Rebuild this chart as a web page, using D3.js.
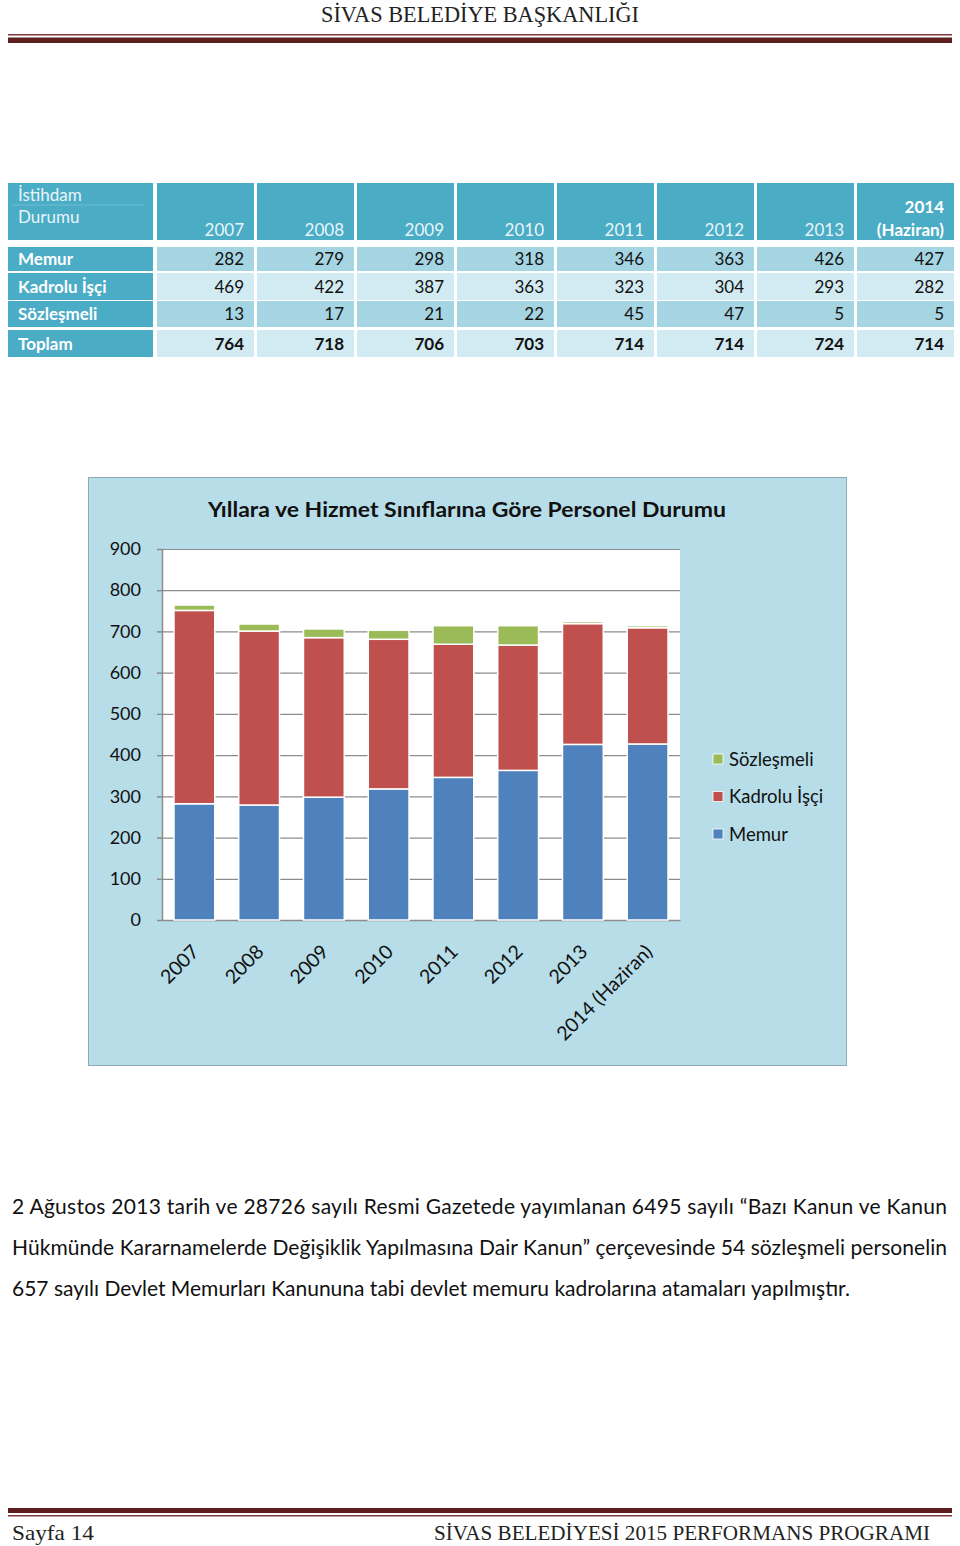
<!DOCTYPE html>
<html><head><meta charset="utf-8">
<script src="https://cdn.jsdelivr.net/npm/d3@7"></script>
<style>
html,body{margin:0;padding:0;background:#fff;}
svg{display:block;}
</style></head>
<body>
<svg id="page" width="960" height="1546"></svg>
<script>
const years = ["2007","2008","2009","2010","2011","2012","2013","2014 (Haziran)"];
const memur = [282,279,298,318,346,363,426,427];
const kadrolu = [469,422,387,363,323,304,293,282];
const sozlesmeli = [13,17,21,22,45,47,5,5];
const toplam = [764,718,706,703,714,714,724,714];
const rowLabels = ["Memur","Kadrolu İşçi","Sözleşmeli","Toplam"];
const seriesNames = ["Memur","Kadrolu İşçi","Sözleşmeli"];
const seriesColors = ["#4f81bd","#c0504d","#9bbb59"];
const yTicks = [0,100,200,300,400,500,600,700,800,900];
const chartTitle = "Yıllara ve Hizmet Sınıflarına Göre Personel Durumu";
const paragraph = [
 "2 Ağustos 2013 tarih ve 28726 sayılı Resmi Gazetede yayımlanan 6495 sayılı “Bazı Kanun ve Kanun",
 "Hükmünde Kararnamelerde Değişiklik Yapılmasına Dair Kanun” çerçevesinde 54 sözleşmeli personelin",
 "657 sayılı Devlet Memurları Kanununa tabi devlet memuru kadrolarına atamaları yapılmıştır."
];

const svg = d3.select("#page");
const sans = "Lato, 'Open Sans', sans-serif";
const serif = "'Liberation Serif', 'DejaVu Serif', serif";
const maroon = "#5e1f1f";

// Header
svg.append("text").attr("x",480).attr("y",22).attr("text-anchor","middle")
  .attr("font-family",serif).attr("font-size",23).attr("fill","#222")
  .attr("textLength",318).attr("lengthAdjust","spacingAndGlyphs")
  .text("SİVAS BELEDİYE BAŞKANLIĞI");
svg.append("rect").attr("x",8).attr("y",34).attr("width",944).attr("height",1.5).attr("fill","#7a3a3a");
svg.append("rect").attr("x",8).attr("y",37.5).attr("width",944).attr("height",5.5).attr("fill",maroon);

// Table
const tbl = svg.append("g");
const colX = d3.scaleBand().domain(years).range([157,954]).paddingInner(0.03);
const firstX = 8, firstW = 145;
const rowsY = [[247,24],[273,27],[301,26],[330,27]];
const rowFills = ["#a5d5e2","#d2eaf1","#a5d5e2","#d2eaf1"];
const head = {y:183,h:57};
const fs = 17;
tbl.append("rect").attr("x",firstX).attr("y",head.y).attr("width",firstW).attr("height",head.h).attr("fill","#4bacc6");
tbl.append("line").attr("x1",firstX+4).attr("x2",firstX+firstW-8).attr("y1",205).attr("y2",205).attr("stroke","#6cbdd2").attr("stroke-width",1);
tbl.append("text").attr("x",18).attr("y",201).attr("font-family",sans).attr("font-size",fs).attr("fill","#e9f5f9").text("İstihdam");
tbl.append("text").attr("x",18).attr("y",223).attr("font-family",sans).attr("font-size",fs).attr("fill","#e9f5f9").text("Durumu");
years.forEach((yr,i)=>{
  const x = colX(yr), w = colX.bandwidth();
  tbl.append("rect").attr("x",x).attr("y",head.y).attr("width",w).attr("height",head.h).attr("fill","#4bacc6");
  if(i===years.length-1){
    const parts = yr.split(" ");
    tbl.append("text").attr("x",x+w-10).attr("y",213).attr("text-anchor","end").attr("font-family",sans).attr("font-weight","bold").attr("font-size",fs).attr("fill","#fff").text(parts[0]);
    tbl.append("text").attr("x",x+w-10).attr("y",236).attr("text-anchor","end").attr("font-family",sans).attr("font-weight","bold").attr("font-size",fs).attr("fill","#fff").text(parts[1]);
  } else {
    tbl.append("text").attr("x",x+w-10).attr("y",236).attr("text-anchor","end").attr("font-family",sans).attr("font-size",fs).attr("fill","#e9f5f9").text(yr);
  }
});
const rowData = [memur,kadrolu,sozlesmeli,toplam];
rowLabels.forEach((lab,r)=>{
  const [ry,rh] = rowsY[r];
  tbl.append("rect").attr("x",firstX).attr("y",ry).attr("width",firstW).attr("height",rh).attr("fill","#4bacc6");
  tbl.append("text").attr("x",18).attr("y",ry+rh/2+6).attr("font-family",sans).attr("font-weight","bold").attr("font-size",fs).attr("fill","#fff").text(lab);
  years.forEach((yr,i)=>{
    const x = colX(yr), w = colX.bandwidth();
    tbl.append("rect").attr("x",x).attr("y",ry).attr("width",w).attr("height",rh).attr("fill",rowFills[r]);
    tbl.append("text").attr("x",x+w-10).attr("y",ry+rh/2+6).attr("text-anchor","end").attr("font-family",sans)
      .attr("font-weight", r===3?"bold":"normal").attr("font-size",fs).attr("fill","#111").text(rowData[r][i]);
  });
});

// Chart
const ch = svg.append("g");
ch.append("rect").attr("x",88.5).attr("y",477.5).attr("width",758).attr("height",588).attr("fill","#b7dde8").attr("stroke","#8eaab5").attr("stroke-width",1);
ch.append("text").attr("x",467).attr("y",517).attr("text-anchor","middle").attr("font-family",sans).attr("font-weight","bold").attr("font-size",21).attr("fill","#111")
  .attr("textLength",518).attr("lengthAdjust","spacingAndGlyphs").text(chartTitle);

const x = d3.scaleBand().domain(years).range([162,680]).paddingInner(0.37).paddingOuter(0.185);
const y = d3.scaleLinear().domain([0,900]).range([920,549]);
ch.append("rect").attr("x",162).attr("y",549).attr("width",518).attr("height",371).attr("fill","#fff");
// gridlines
ch.append("g").selectAll("line").data(yTicks.filter(t=>t>0)).join("line")
  .attr("x1",157).attr("x2",680).attr("y1",d=>y(d)+0.5).attr("y2",d=>y(d)+0.5)
  .attr("stroke","#8c8c8c").attr("stroke-width",1.2);
// y axis
const yAxis = ch.append("g").attr("transform","translate(162,0)")
  .call(d3.axisLeft(y).tickValues(yTicks).tickSize(5).tickPadding(16));
yAxis.select(".domain").attr("stroke","#8c8c8c").attr("stroke-width",1.5);
yAxis.selectAll(".tick line").attr("stroke","#8c8c8c");
yAxis.selectAll("text").attr("font-family",sans).attr("font-size",18).attr("fill","#111");
// x axis
const xAxis = ch.append("g").attr("transform","translate(0,920)")
  .call(d3.axisBottom(x).tickSize(0).tickPadding(0));
xAxis.select(".domain").attr("stroke","#8c8c8c").attr("stroke-width",1.5);
xAxis.selectAll("text").attr("font-family",sans).attr("font-size",19.5).attr("fill","#111")
  .attr("text-anchor","end").attr("dy",0).attr("transform","translate(6,33) rotate(-45)");

// stacked bars
const tableRows = years.map((yr,i)=>({year:yr,"Memur":memur[i],"Kadrolu İşçi":kadrolu[i],"Sözleşmeli":sozlesmeli[i]}));
const stack = d3.stack().keys(seriesNames)(tableRows);
const color = d3.scaleOrdinal().domain(seriesNames).range(seriesColors);
ch.append("g").selectAll("g").data(stack).join("g").attr("fill",d=>color(d.key))
  .selectAll("rect").data(d=>d).join("rect")
  .attr("x",d=>x(d.data.year)).attr("width",x.bandwidth())
  .attr("y",d=>y(d[1])).attr("height",d=>y(d[0])-y(d[1]))
  .attr("stroke","#fff").attr("stroke-width",1.5);

// legend
const leg = ch.append("g");
const legOrder = seriesNames.slice().reverse();
legOrder.forEach((n,i)=>{
  const cy = 759 + i*37.5;
  leg.append("rect").attr("x",713).attr("y",cy-5).attr("width",10).attr("height",10).attr("fill",color(n)).attr("stroke","#fff").attr("stroke-width",0.8);
  leg.append("text").attr("x",729).attr("y",cy+6.5).attr("font-family",sans).attr("font-size",18.5).attr("fill","#111").text(n);
});

// paragraph
paragraph.forEach((line,i)=>{
  const t = svg.append("text").attr("x",12).attr("y",1214+i*41).attr("font-family",sans).attr("font-size",21).attr("fill","#111").text(line);
  if(i<paragraph.length-1) t.attr("textLength",935).attr("lengthAdjust","spacing");
});

// footer
svg.append("rect").attr("x",8).attr("y",1508).attr("width",944).attr("height",5).attr("fill",maroon);
svg.append("rect").attr("x",8).attr("y",1515).attr("width",944).attr("height",1.5).attr("fill","#7a3a3a");
svg.append("text").attr("x",12).attr("y",1540).attr("font-family",serif).attr("font-size",21).attr("fill","#222")
  .attr("textLength",82).attr("lengthAdjust","spacingAndGlyphs").text("Sayfa 14");
svg.append("text").attr("x",930).attr("y",1540).attr("text-anchor","end").attr("font-family",serif).attr("font-size",21).attr("fill","#222")
  .attr("textLength",496).attr("lengthAdjust","spacingAndGlyphs").text("SİVAS BELEDİYESİ 2015 PERFORMANS PROGRAMI");
</script>
</body></html>
